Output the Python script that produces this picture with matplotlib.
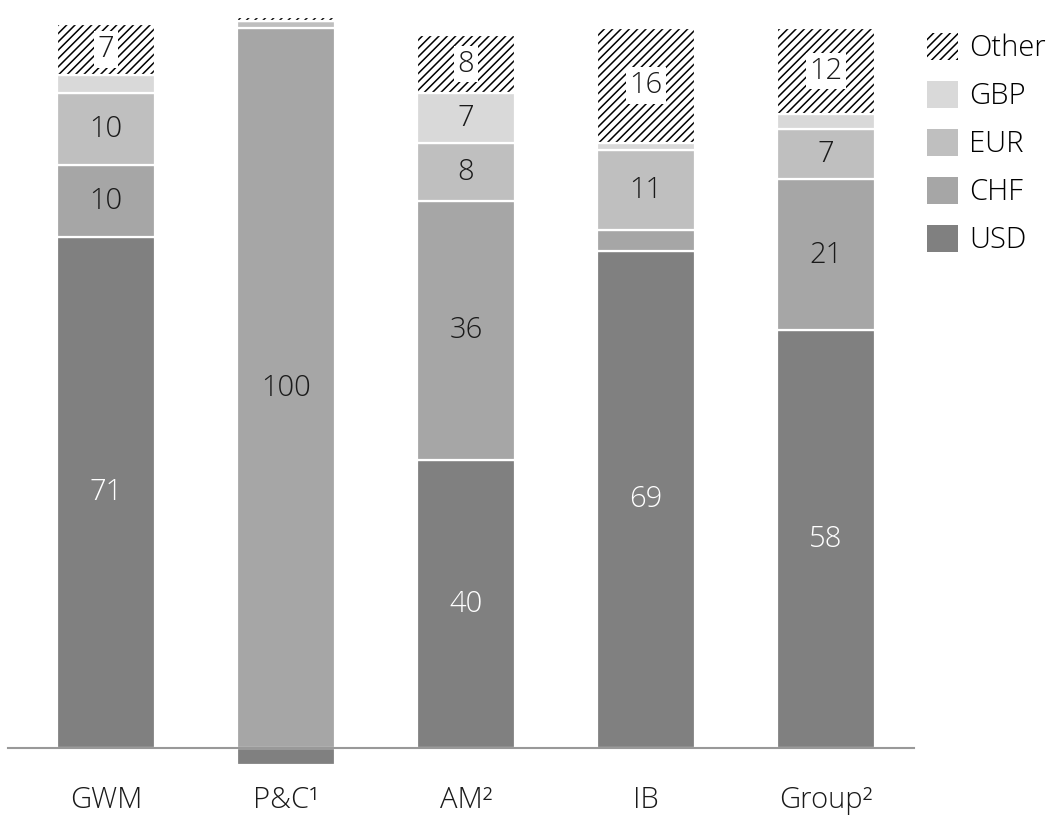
import matplotlib
matplotlib.use("Agg")
import matplotlib.pyplot as plt
from matplotlib.patches import Patch
import numpy as np

plt.rcParams["font.family"] = ["Open Sans", "DejaVu Sans"]
plt.rcParams["font.weight"] = "light"
plt.rcParams["hatch.linewidth"] = 1.1

categories = ["GWM", "P&C¹", "AM²", "IB", "Group²"]
usd = [71, -2.3, 40, 69, 58]
chf = [10, 100, 36, 3, 21]
eur = [10, 1, 8, 11, 7]
gbp = [2.5, 0, 7, 1, 2]
other = [7, 0.6, 8, 16, 12]

series = [("USD", usd, "#808080"), ("CHF", chf, "#a6a6a6"),
          ("EUR", eur, "#bfbfbf"), ("GBP", gbp, "#d9d9d9")]

fig = plt.figure(figsize=(10.62, 8.15), dpi=100)
ax = fig.add_axes([0.0075, 0.0184, 0.853, 0.9693])

x = np.arange(len(categories))
width = 0.545
text_col = "#1a1a1a"
fs = 21

bottom = np.zeros(len(categories))
for name, vals, col in series:
    vals = np.array(vals, dtype=float)
    base = np.where(vals < 0, 0, bottom)
    ax.bar(x, vals, width, bottom=base, color=col, edgecolor="white", linewidth=1.6)
    for i, v in enumerate(vals):
        if abs(v) >= 5:
            tc = "white" if name == "USD" else text_col
            ax.text(x[i], base[i] + v / 2, f"{v:g}", ha="center", va="center",
                    fontsize=fs, color=tc)
    bottom = base + np.where(vals < 0, 0, vals)

oth = np.array(other, dtype=float)
ax.bar(x, oth, width, bottom=bottom, color="white", edgecolor="black",
       linewidth=0, hatch="////")
ax.bar(x, oth, width, bottom=bottom, fill=False, edgecolor="white", linewidth=1.6)
for i, v in enumerate(oth):
    if v >= 5:
        ax.text(x[i], bottom[i] + v / 2, f"{v:g}", ha="center", va="center",
                fontsize=fs, color=text_col,
                bbox=dict(boxstyle="square,pad=0.12", fc="white", ec="none"))

ax.set_xlim(-0.545, 4.49)
ax.set_ylim(-7.22, 102.5)
for s in ["top", "right", "left"]:
    ax.spines[s].set_visible(False)
ax.spines["bottom"].set_position(("data", 0))
ax.spines["bottom"].set_color("#999999")
ax.spines["bottom"].set_linewidth(1.5)
ax.set_yticks([])
ax.set_xticks(x)
ax.set_xticklabels(categories, fontsize=fs, color=text_col)
ax.tick_params(axis="x", length=0, pad=27)

handles = [Patch(facecolor="white", edgecolor="black", linewidth=0, hatch="////", label="Other")]
for name, vals, col in reversed(series):
    handles.append(Patch(facecolor=col, edgecolor="none", label=name))
fig.legend(handles=handles, loc="upper left", bbox_to_anchor=(0.873, 0.960),
           frameon=False, fontsize=fs, handlelength=1.05, handleheight=1.05,
           labelspacing=0.6, handletextpad=0.4, borderaxespad=0, borderpad=0)

fig.savefig("out.png", dpi=100)
